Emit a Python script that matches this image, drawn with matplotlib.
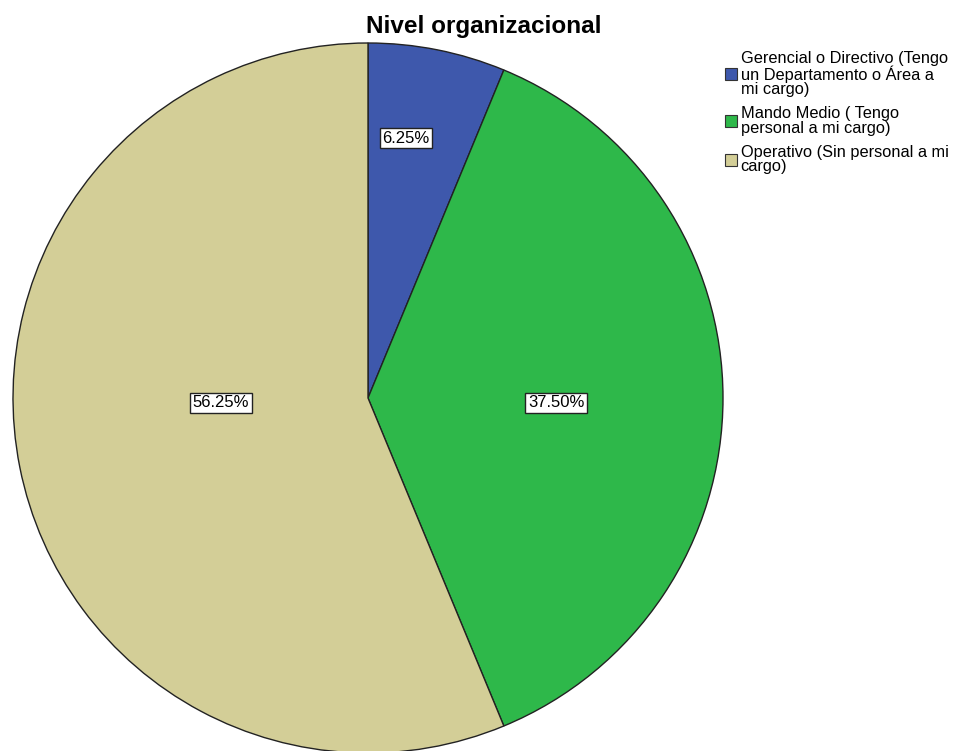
import matplotlib
matplotlib.use("Agg")
import matplotlib.pyplot as plt
import numpy as np

plt.rcParams['font.family'] = ['Liberation Sans', 'DejaVu Sans']

categories = ["Gerencial o Directivo (Tengo\nun Departamento o Área a\nmi cargo)",
              "Mando Medio ( Tengo\npersonal a mi cargo)",
              "Operativo (Sin personal a mi\ncargo)"]
values = [6.25, 37.50, 56.25]
colors = ["#3e58ac", "#2eb84a", "#d3ce97"]
title = "Nivel organizacional"

W, H = 957, 751
fig = plt.figure(figsize=(W/100, H/100), dpi=100)
cx, cy, r = 368, 398, 355
ax = fig.add_axes([(cx - r)/W, (H - cy - r)/H, 2*r/W, 2*r/H])
wedges, texts, autotexts = ax.pie(values, colors=colors, startangle=90, counterclock=False,
                                  autopct=lambda p: f"{p:.2f}%", pctdistance=0.55,
                                  wedgeprops=dict(edgecolor="#222222", linewidth=1.0),
                                  textprops=dict(fontsize=12))
ax.set_xlim(-1, 1); ax.set_ylim(-1, 1)
ax.set_aspect('equal')
label_pos = [(0.107, 0.732), (0.53, -0.014), (-0.414, -0.014)]
for t, (x, y) in zip(autotexts, label_pos):
    t.set_position((x, y))
    t.set_ha('center'); t.set_va('center')
    t.set_bbox(dict(facecolor='white', edgecolor='#222222', linewidth=1.0, pad=2))

fig.text(484/W, 1 - 26/H, title, ha='center', va='center', fontsize=17.5, fontweight='bold')

handles = [plt.Rectangle((0, 0), 1, 1, facecolor=c, edgecolor='#333333', linewidth=0.8) for c in colors]
leg = fig.legend(handles, categories, loc='upper left', bbox_to_anchor=(725/W, 1 - 51/H),
                 frameon=False, prop=dict(size=11.8), borderaxespad=0,
                 handlelength=0.75, handleheight=0.75,
                 handletextpad=0.2, labelspacing=0.55, borderpad=0)
for t in leg.get_texts():
    t.set_linespacing(0.95)
fig.savefig("out.png", dpi=100)
